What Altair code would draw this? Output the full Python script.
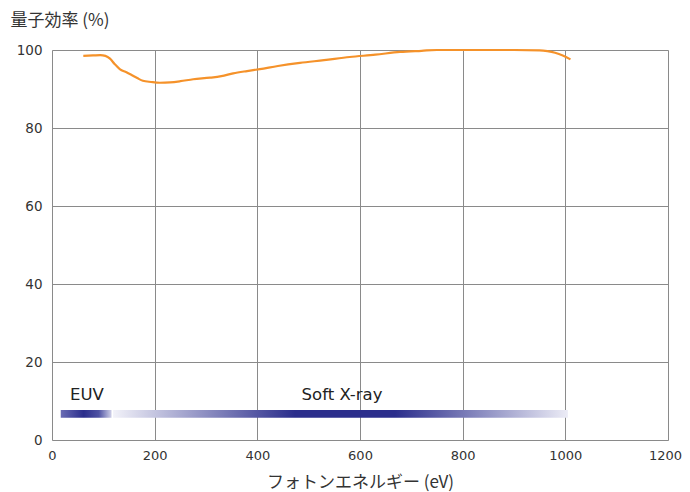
import altair as alt
import pandas as pd

# Quantum efficiency curve
energy_ev = [61, 80, 94, 104, 113, 122, 132, 145, 155, 166, 177, 193, 210, 230, 250, 275, 308, 330, 353, 380, 405,
             440, 483, 530, 580, 630, 678, 720, 750, 800, 850, 900, 950, 965, 980, 995, 1010]
qe_pct = [98.5, 98.6, 98.7, 98.5, 97.8, 96.4, 95.1, 94.3, 93.6, 92.8, 92.1, 91.8, 91.6, 91.7, 92.0, 92.5, 92.9, 93.3,
          94.0, 94.6, 95.1, 95.9, 96.7, 97.4, 98.2, 98.8, 99.5, 99.8, 100.0, 100.0, 100.0, 100.0, 99.9, 99.7,
          99.3, 98.6, 97.6]

# Wavelength band bars
band_names = ["EUV", "Soft X-ray"]
band_start = [17, 119]
band_end = [116, 1005]
band_y0 = [5.7, 5.7]
band_y1 = [7.7, 7.7]
label_x = [68, 565]
label_y = [11.5, 11.5]

x_ticks = [0, 200, 400, 600, 800, 1000, 1200]
y_ticks = [0, 20, 40, 60, 80, 100]

curve = pd.DataFrame({"e": energy_ev, "qe": qe_pct})
bands = pd.DataFrame({"name": band_names, "x0": band_start, "x1": band_end,
                      "y0": band_y0, "y1": band_y1, "lx": label_x, "ly": label_y})

JFONT = "Noto Sans CJK JP"
NFONT = "DejaVu Sans"
NAVY = "#2b2e8c"

xscale = alt.Scale(domain=[0, 1200], nice=False, zero=False)
yscale = alt.Scale(domain=[0, 100], nice=False)

xaxis = alt.Axis(values=x_ticks, format="d", title="フォトンエネルギー (eV)",
                 grid=True, gridColor="#8a8a8a", gridWidth=1, ticks=False, domain=False,
                 labelFont=NFONT, labelFontSize=13,
                 labelOffset=alt.condition(alt.datum.value == 1200, alt.value(-3), alt.value(0)),
                 labelColor="#333333", labelPadding=9,
                 titleFont=JFONT, titleFontSize=17, titleFontWeight="normal", titleColor="#333333",
                 titlePadding=12, labelFlush=False)
yaxis = alt.Axis(values=y_ticks, format="d", title="量子効率 (%)", grid=True,
                 gridColor="#8a8a8a", gridWidth=1, ticks=False, domain=False,
                 labelFont=NFONT, labelFontSize=13.5, labelColor="#333333", labelPadding=10,
                 titleFont=JFONT, titleFontSize=17, titleFontWeight="normal", titleColor="#333333",
                 titleAngle=0, titleAlign="left", titleBaseline="middle", titleX=-42, titleY=-30)

line = alt.Chart(curve).mark_line(color="#f5922a", strokeWidth=2.2, interpolate="monotone").encode(
    x=alt.X("e:Q", scale=xscale, axis=xaxis),
    y=alt.Y("qe:Q", scale=yscale, axis=yaxis),
)

euv_grad = alt.LinearGradient(gradient="linear", x1=0, x2=1, y1=0, y2=0, stops=[
    alt.GradientStop(offset=0, color="#6a6cb4"),
    alt.GradientStop(offset=0.45, color=NAVY),
    alt.GradientStop(offset=0.75, color="#4f53a3"),
    alt.GradientStop(offset=1, color="#cfd0e8"),
])
sx_grad = alt.LinearGradient(gradient="linear", x1=0, x2=1, y1=0, y2=0, stops=[
    alt.GradientStop(offset=0, color="#f2f2f9"),
    alt.GradientStop(offset=0.4, color=NAVY),
    alt.GradientStop(offset=0.62, color=NAVY),
    alt.GradientStop(offset=1, color="#ececf6"),
])

euv_bar = alt.Chart(bands).transform_filter(alt.datum.name == "EUV").mark_rect(color=euv_grad).encode(
    x="x0:Q", x2="x1", y="y0:Q", y2="y1")
sx_bar = alt.Chart(bands).transform_filter(alt.datum.name == "Soft X-ray").mark_rect(color=sx_grad).encode(
    x="x0:Q", x2="x1", y="y0:Q", y2="y1")

labels = alt.Chart(bands).mark_text(font=NFONT, fontSize=16.5, color="#222222", baseline="middle").encode(
    x="lx:Q", y="ly:Q", text="name:N")

chart = alt.layer(euv_bar, sx_bar, line, labels).properties(
    width=616, height=390,
    autosize=alt.AutoSizeParams(type="none"),
    padding={"left": 44, "top": 42, "right": 14, "bottom": 52},
).configure_view(stroke="#333333", strokeWidth=1.2).configure(background="white")

chart.save("out.html", embed_options={"renderer": "svg", "actions": False})
